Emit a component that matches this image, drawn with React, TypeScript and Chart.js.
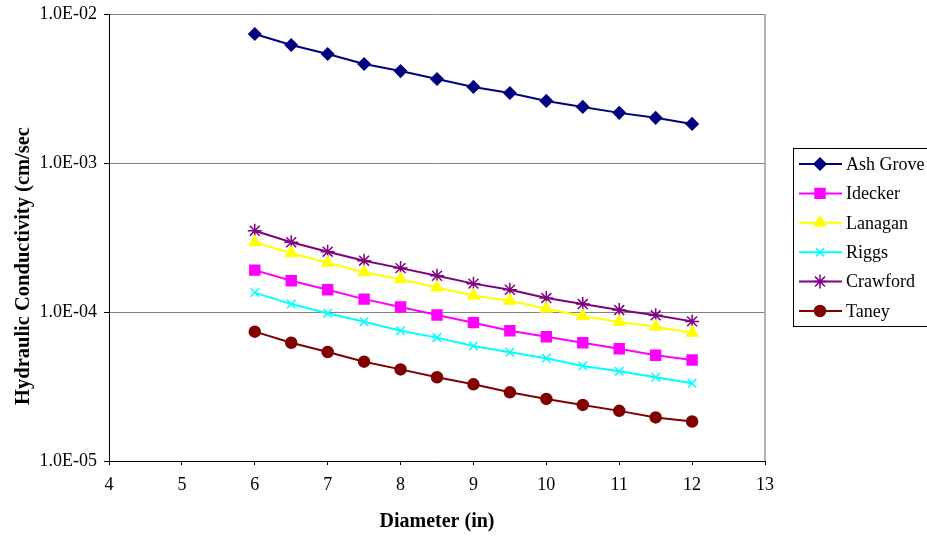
import React, { useEffect, useRef } from "react";
import { Chart, registerables } from "chart.js";
import { drawPoint } from "chart.js/helpers";

Chart.register(...registerables);

const diameters = [6, 6.5, 7, 7.5, 8, 8.5, 9, 9.5, 10, 10.5, 11, 11.5, 12];

const ashGrove = [7.34e-3, 6.19e-3, 5.39e-3, 4.62e-3, 4.14e-3, 3.66e-3, 3.24e-3, 2.95e-3, 2.61e-3, 2.38e-3, 2.17e-3, 2.01e-3, 1.83e-3];
const idecker = [1.91e-4, 1.62e-4, 1.41e-4, 1.22e-4, 1.08e-4, 9.55e-5, 8.48e-5, 7.49e-5, 6.82e-5, 6.22e-5, 5.67e-5, 5.12e-5, 4.76e-5];
const lanagan = [2.94e-4, 2.48e-4, 2.14e-4, 1.85e-4, 1.66e-4, 1.46e-4, 1.29e-4, 1.19e-4, 1.05e-4, 9.4e-5, 8.57e-5, 7.96e-5, 7.26e-5];
const riggs = [1.35e-4, 1.13e-4, 9.8e-5, 8.61e-5, 7.49e-5, 6.73e-5, 5.92e-5, 5.37e-5, 4.89e-5, 4.34e-5, 4.0e-5, 3.65e-5, 3.32e-5];
const crawford = [3.51e-4, 2.94e-4, 2.54e-4, 2.21e-4, 1.97e-4, 1.75e-4, 1.55e-4, 1.41e-4, 1.24e-4, 1.13e-4, 1.03e-4, 9.5e-5, 8.65e-5];
const taney = [7.38e-5, 6.22e-5, 5.39e-5, 4.64e-5, 4.12e-5, 3.65e-5, 3.27e-5, 2.89e-5, 2.61e-5, 2.38e-5, 2.17e-5, 1.96e-5, 1.84e-5];

const seriesNames = ["Ash Grove", "Idecker", "Lanagan", "Riggs", "Crawford", "Taney"];
const seriesValues = [ashGrove, idecker, lanagan, riggs, crawford, taney];
const seriesColors = ["#000080", "#FF00FF", "#FFFF00", "#00FFFF", "#800080", "#800000"];
const seriesMarkers = ["rectRot", "rect", "triangle", "crossRot", "star", "circle"];
const seriesRadius = [6, 7, 6.5, 6, 7, 5.5];

const yTickValues = [1e-5, 1e-4, 1e-3, 1e-2];
const yTickLabels = ["1.0E-05", "1.0E-04", "1.0E-03", "1.0E-02"];

const xTitle = "Diameter (in)";
const yTitle = "Hydraulic Conductivity (cm/sec";

const FONT = "'Liberation Serif', 'Times New Roman', serif";

const extrasPlugin = {
  id: "extras",
  afterDraw(chart: any) {
    const ctx = chart.ctx;
    const area = chart.chartArea;
    ctx.save();
    // right border
    ctx.strokeStyle = "#999999";
    ctx.lineWidth = 1.5;
    ctx.beginPath();
    ctx.moveTo(area.right, area.top);
    ctx.lineTo(area.right, area.bottom);
    ctx.stroke();

    // y title
    ctx.save();
    ctx.fillStyle = "#000";
    ctx.font = "bold 20.5px " + FONT;
    ctx.translate(24, 266);
    ctx.rotate(-Math.PI / 2);
    ctx.textAlign = "center";
    ctx.textBaseline = "middle";
    ctx.fillText(yTitle, 0, 0);
    ctx.restore();

    // legend box
    const bx = 793.5, by = 148.5, bw = 140, bh = 178;
    ctx.fillStyle = "#fff";
    ctx.fillRect(bx, by, bw, bh);
    ctx.strokeStyle = "#000";
    ctx.lineWidth = 1;
    ctx.strokeRect(bx, by, bw, bh);
    ctx.font = "18px " + FONT;
    ctx.textAlign = "left";
    ctx.textBaseline = "middle";
    seriesNames.forEach((name, i) => {
      const y = 164 + i * 29.4;
      ctx.strokeStyle = seriesColors[i];
      ctx.lineWidth = 2;
      ctx.beginPath();
      ctx.moveTo(799, y);
      ctx.lineTo(842, y);
      ctx.stroke();
      ctx.fillStyle = seriesColors[i];
      ctx.strokeStyle = seriesColors[i];
      ctx.lineWidth = 1.5;
      drawPoint(ctx, { pointStyle: seriesMarkers[i], radius: seriesRadius[i], rotation: 0, borderWidth: 1.5 } as any, 820, y);
      ctx.fillStyle = "#000";
      ctx.fillText(name, 846, y + 1);
    });
    ctx.restore();
  },
};

export default function App() {
  const ref = useRef<HTMLCanvasElement>(null);
  useEffect(() => {
    document.body.style.margin = "0";
    const datasets = seriesNames.map((name, i) => ({
      label: name,
      data: diameters.map((d, j) => ({ x: d, y: seriesValues[i][j] })),
      borderColor: seriesColors[i],
      backgroundColor: seriesColors[i],
      borderWidth: 2,
      pointStyle: seriesMarkers[i],
      pointRadius: seriesRadius[i],
      pointBorderWidth: 1.5,
      pointHoverRadius: seriesRadius[i],
      tension: 0,
    }));
    const chart = new Chart(ref.current!, {
      type: "line",
      data: { datasets },
      plugins: [extrasPlugin],
      options: {
        animation: false,
        responsive: false,
        layout: { padding: { top: 14, right: 162, left: 0, bottom: 0 } },
        plugins: { legend: { display: false }, tooltip: { enabled: false } },
        scales: {
          x: {
            type: "linear",
            min: 4,
            max: 13,
            ticks: { stepSize: 1, color: "#000", font: { family: FONT, size: 18 }, padding: 9 },
            grid: { drawOnChartArea: false, drawTicks: true, tickLength: 4, tickColor: "#000" },
            border: { color: "#000", width: 1 },
            title: { display: true, text: xTitle, color: "#000", font: { family: FONT, size: 20, weight: "bold" }, padding: { top: 0, bottom: 2 } },
            afterFit(scale: any) {
              scale.height = 75;
              scale.paddingLeft = 0;
              scale.paddingRight = 0;
            },
          },
          y: {
            type: "logarithmic",
            min: 1e-5,
            max: 1e-2,
            afterBuildTicks(scale: any) {
              scale.ticks = yTickValues.map((v) => ({ value: v }));
            },
            ticks: {
              color: "#000",
              font: { family: FONT, size: 18 },
              padding: 7,
              callback: (v: any) => {
                const idx = yTickValues.findIndex((t) => Math.abs(t - v) / t < 1e-6);
                return idx >= 0 ? yTickLabels[idx] : "";
              },
            },
            grid: { color: "#808080", lineWidth: 1, tickLength: 5, tickColor: "#000" },
            border: { color: "#000", width: 1 },
            afterFit(scale: any) {
              scale.width = 109;
              scale.paddingTop = 0;
              scale.paddingBottom = 0;
            },
          },
        },
      } as any,
    });
    return () => chart.destroy();
  }, []);
  return (
    <div style={{ width: 927, height: 536 }}>
      <canvas ref={ref} width={927} height={536} style={{ display: "block" }} />
    </div>
  );
}
